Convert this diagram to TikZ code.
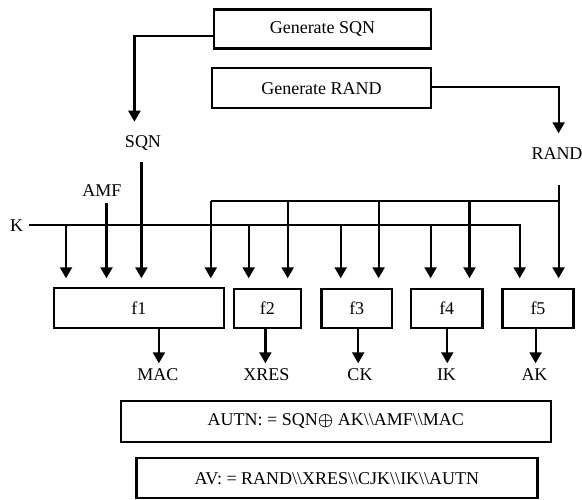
\documentclass[tikz,border=0pt]{standalone}
\usepackage{fontspec}
\usepackage{amsmath,bm}
\setmainfont{Liberation Serif}
\usetikzlibrary{arrows.meta}
\begin{document}
\begin{tikzpicture}[x=1pt,y=-1pt,
  line width=2.2pt,
  box/.style={draw,rectangle,inner sep=0pt,line width=2.2pt},
  lbl/.style={inner sep=0pt,font=\fontsize{18}{20}\selectfont},
  arr/.style={-{Triangle[width=12pt,length=11pt]}},
  font=\fontsize{18}{20}\selectfont]
\useasboundingbox (0,0) rectangle (582,500);
% boxes
\node[box,minimum width=217pt,minimum height=39pt] (gsqn) at (322.5,29) {Generate SQN};
\node[box,minimum width=219pt,minimum height=40pt] (grand) at (321.5,88.3) {Generate RAND};
\node[box,minimum width=170pt,minimum height=40pt] (f1) at (138.9,307.7) {f1};
\node[box,minimum width=67pt,minimum height=38.4pt] (f2) at (267.3,308.5) {f2};
\node[box,minimum width=70.5pt,minimum height=38.4pt] (f3) at (356.75,308.5) {f3};
\node[box,minimum width=71.5pt,minimum height=38.4pt] (f4) at (446.75,308.5) {f4};
\node[box,minimum width=71pt,minimum height=38.4pt] (f5) at (538,308.5) {f5};
\node[box,minimum width=430.4pt,minimum height=40.7pt] (autn) at (335.8,421.3) {AUTN: = SQN$\bm{\oplus}$ AK\textbackslash\textbackslash AMF\textbackslash\textbackslash MAC};
\node[box,minimum width=401pt,minimum height=40pt] (av) at (337,478.3) {AV: = RAND\textbackslash\textbackslash XRES\textbackslash\textbackslash CJK\textbackslash\textbackslash IK\textbackslash\textbackslash AUTN};
% labels
\node[lbl] (sqn) at (143,142.7) {SQN};
\node[lbl] (rand) at (557,154) {RAND};
\node[lbl] (amf) at (102,190.7) {AMF};
\node[lbl] (k) at (16.7,225.3) {K};
\node[lbl] (mac) at (157.8,375) {MAC};
\node[lbl] (xres) at (266.5,375) {XRES};
\node[lbl] (ck) at (360,375) {CK};
\node[lbl] (ik) at (446.5,375) {IK};
\node[lbl] (ak) at (534.5,375) {AK};
% coordinates
\coordinate (sqntip) at (134.4,121.7);
\coordinate (randtip) at (558.6,133.3);
\coordinate (sqntop) at (141.4,161.7);
\coordinate (amftop) at (106.5,203.3);
\coordinate (randtop) at (558.6,185);
\coordinate (kstart) at (29,225.3);
\coordinate (kend) at (519.7,225.3);
\coordinate (busL) at (210.8,201);
\coordinate (busR) at (558.6,201);
\foreach \n/\x in {a/66,b/106.5,c/141.4,d/210.8,e/248.7,f/287.7,g/340.7,h/378.6,i/430.6,j/469.5,k/519.7,l/558.6}
  \coordinate (t\n) at (\x,278.3);
\foreach \n/\x in {a/158.9,b/265.4,c/358.2,d/447.3,e/535.6}
  \coordinate (o\n) at (\x,363.3);
% top connectors
\draw[arr] ([yshift=-7pt]gsqn.west) -| (sqntip);
\draw[arr] ([yshift=1pt]grand.east) -| (randtip);
% SQN, AMF
\draw[arr] (sqntop) -- (tc);
\draw[arr] (amftop) -- (tb);
% RAND bus
\draw[arr] (randtop) -- (tl);
\draw (busL) -- (busR);
\draw[arr] (busL) -- (td);
\foreach \n in {f,h,j} \draw[arr] (busL -| t\n) -- (t\n);
% K line
\draw[arr] (kstart) -- (kend) -- (tk);
\foreach \n in {a,e,g,i} \draw[arr] (kstart -| t\n) -- (t\n);
% outputs
\draw[arr] (f1.south -| oa) -- (oa);
\draw[arr] (f2.south -| ob) -- (ob);
\draw[arr] (f3.south -| oc) -- (oc);
\draw[arr] (f4.south -| od) -- (od);
\draw[arr] (f5.south -| oe) -- (oe);
\end{tikzpicture}
\end{document}
